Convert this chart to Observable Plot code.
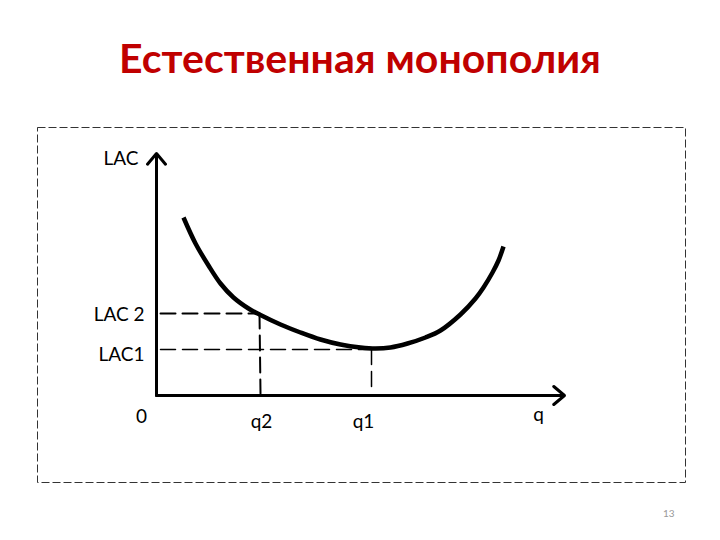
<!DOCTYPE html>
<html>
<head>
<meta charset="utf-8">
<script src="https://cdn.jsdelivr.net/npm/d3@7"></script>
<script src="https://cdn.jsdelivr.net/npm/@observablehq/plot@0.6"></script>
<style>
  html, body { margin: 0; padding: 0; background: #fff; }
  #page { position: relative; width: 720px; height: 540px; overflow: hidden; }
  #title { position: absolute; left: 0; top: 37px; width: 720px; text-align: center;
           font-family: Lato, "Open Sans", sans-serif; font-weight: bold; font-size: 41px;
           color: #c00000; line-height: 1; }
  #chart { position: absolute; left: 0; top: 100px; }
  #pagenum { position: absolute; left: 663px; top: 507px; font-family: Lato, sans-serif;
             font-size: 10px; color: #999; }
</style>
</head>
<body>
<div id="page">
  <div id="title">Естественная монополия</div>
  <div id="chart"></div>
  <div id="pagenum">13</div>
</div>
<script>
// Long-run average cost curve (q, LAC)
const curveQ   = [27, 39, 52, 64, 77, 92, 103, 124, 144, 164, 184, 204, 219, 234, 251, 269, 284, 304, 319, 327, 336, 342, 347];
const curveLAC = [178, 152, 130, 112, 98, 87, 81, 71, 63, 56, 51, 48, 47, 48, 52, 58, 65, 81, 97, 108, 123, 135, 149];

// Reference levels
const q2 = 103, LAC2 = 82;
const q1 = 215, LAC1 = 46;

// Axis extents
const qMax = 408, lacMax = 242;

// Labels
const yLabels = ["LAC", "LAC 2", "LAC1"];
const xLabels = ["0", "q2", "q1", "q"];

const curve = curveQ.map((q, i) => ({q, lac: curveLAC[i]}));

const font = "Lato, 'Open Sans', sans-serif";

const chart = Plot.plot({
  width: 720,
  height: 400,
  marginLeft: 156,
  marginRight: 156,
  marginTop: 53,
  marginBottom: 105,
  x: {domain: [0, qMax], axis: null},
  y: {domain: [0, lacMax], axis: null},
  style: {fontFamily: font, background: "white"},
  marks: [
    Plot.frame({stroke: "#333", strokeWidth: 1, strokeDasharray: "8,3",
                insetLeft: -119, insetRight: -121, insetTop: -26, insetBottom: -87}),
    // dashed guides
    Plot.line([{q: 4, lac: LAC2}, {q: q2, lac: LAC2}], {x: "q", y: "lac", stroke: "black", strokeWidth: 2, strokeDasharray: "15,7"}),
    Plot.line([{q: q2, lac: LAC2}, {q: q2 + 1, lac: 2}], {x: "q", y: "lac", stroke: "black", strokeWidth: 2, strokeDasharray: "15,7"}),
    Plot.line([{q: 4, lac: LAC1}, {q: q1, lac: LAC1}], {x: "q", y: "lac", stroke: "black", strokeWidth: 1.5, strokeDasharray: "15,7"}),
    Plot.line([{q: q1, lac: LAC1}, {q: q1, lac: 4}], {x: "q", y: "lac", stroke: "black", strokeWidth: 1.5, strokeDasharray: "15,7"}),
    // axes
    Plot.arrow([{x1: 0, y1: 0, x2: qMax, y2: 0}], {x1: "x1", y1: "y1", x2: "x2", y2: "y2", stroke: "black", strokeWidth: 3, headLength: 7, headAngle: 80}),
    Plot.arrow([{x1: 0, y1: 0, x2: 0, y2: lacMax}], {x1: "x1", y1: "y1", x2: "x2", y2: "y2", stroke: "black", strokeWidth: 3, headLength: 7, headAngle: 80}),
    // LAC curve
    Plot.line(curve, {x: "q", y: "lac", curve: "catmull-rom", stroke: "black", strokeWidth: 4.5, strokeLinecap: "butt"}),
    // y labels
    Plot.text([{q: 0, lac: lacMax, t: yLabels[0]}], {x: "q", y: "lac", text: "t", textAnchor: "end", dx: -18, dy: 5, fontSize: 19, fill: "black"}),
    Plot.text([{q: 0, lac: LAC2, t: yLabels[1]}], {x: "q", y: "lac", text: "t", textAnchor: "end", dx: -12, dy: 1, fontSize: 19, fill: "black"}),
    Plot.text([{q: 0, lac: LAC1, t: yLabels[2]}], {x: "q", y: "lac", text: "t", textAnchor: "end", dx: -12, dy: 5, fontSize: 19, fill: "black"}),
    // x labels
    Plot.text([{q: 0, lac: 0, t: xLabels[0]}], {x: "q", y: "lac", text: "t", dx: -15, dy: 21, fontSize: 19, fill: "black"}),
    Plot.text([{q: q2, lac: 0, t: xLabels[1]}], {x: "q", y: "lac", text: "t", dx: 2, dy: 26, fontSize: 19, fill: "black"}),
    Plot.text([{q: q1, lac: 0, t: xLabels[2]}], {x: "q", y: "lac", text: "t", dx: -8, dy: 26, fontSize: 19, fill: "black"}),
    Plot.text([{q: qMax, lac: 0, t: xLabels[3]}], {x: "q", y: "lac", text: "t", dx: -26, dy: 19, fontSize: 19, fill: "black"})
  ]
});
document.getElementById("chart").appendChild(chart);
</script>
</body>
</html>
